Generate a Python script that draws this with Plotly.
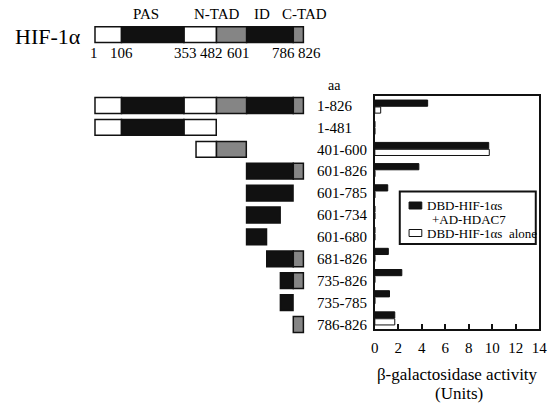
import plotly.graph_objects as go

# ---------------- data ----------------
constructs = ["1-826", "1-481", "401-600", "601-826", "601-785", "601-734",
              "601-680", "681-826", "735-826", "735-785", "786-826"]
starts = [1, 1, 401, 601, 601, 601, 601, 681, 735, 735, 786]
ends = [826, 481, 600, 826, 785, 734, 680, 826, 826, 785, 826]
hdac7 = [4.5, 0, 9.7, 3.75, 1.1, 0, 0, 1.15, 2.3, 1.25, 1.7]
alone = [0.5, 0, 9.75, 0, 0, 0, 0, 0, 0, 0, 1.7]
domain_bounds = [1, 106, 353, 482, 601, 786, 826]
segment_kind = ["open", "filled", "open", "tad", "filled", "tad"]
domain_names = ["PAS", "N-TAD", "ID", "C-TAD"]
bound_labels = ["1", "106", "353", "482", "601", "786", "826"]
x_ticks = [0, 2, 4, 6, 8, 10, 12, 14]
series_names = ["DBD-HIF-1αs<br>+AD-HDAC7", "DBD-HIF-1αs\u00a0\u00a0alone"]

# ---------------- style / layout ----------------
W, H = 556, 408
FONT = "Liberation Serif"
INK = "#111111"
kind_color = {"open": "white", "filled": INK, "tad": "#858585"}
series_color = [INK, "white"]
FULL_ROW = -3.24  # row position of full-length HIF-1a schematic


def px_x(p):
    return p / W


def px_y(p):
    return 1 - p / H


# schematic segments computed from construct ranges
seg = {k: {"y": [], "base": [], "len": []} for k in kind_color}
rows = [(FULL_ROW, 1, 826)] + [(i, s, e) for i, (s, e) in enumerate(zip(starts, ends))]
for r, s, e in rows:
    for k in range(len(segment_kind)):
        lo = max(s, domain_bounds[k])
        hi = min(e, domain_bounds[k + 1])
        if hi > lo:
            d = seg[segment_kind[k]]
            d["y"].append(r)
            d["base"].append(lo)
            d["len"].append(hi - lo)

fig = go.Figure()

for k, d in seg.items():
    fig.add_trace(go.Bar(
        x=d["len"], base=d["base"], y=d["y"], orientation="h",
        xaxis="x2", yaxis="y2", width=0.72, offset=-0.36,
        marker=dict(color=kind_color[k], line=dict(color=INK, width=1.5)),
        showlegend=False, hoverinfo="skip"))

for vals, name, col in zip([hdac7, alone], series_names, series_color):
    fig.add_trace(go.Bar(
        x=vals, y=constructs, orientation="h", name=name, showlegend=False,
        marker=dict(color=col, line=dict(color=INK, width=1))))

scale = 213 / 825.0  # px per aa
x2_lo = 1 + (80 - 93) / scale
x2_hi = 1 + (319 - 93) / scale
row_px0, row_step = 105.5, 21.9
y2_top = (18 - row_px0) / row_step
y2_bot = (342 - row_px0) / row_step


def label(text, xp, yp, size, xanchor="center"):
    return dict(text=text, x=px_x(xp), y=px_y(yp), xref="paper", yref="paper",
                xanchor=xanchor, yanchor="middle", showarrow=False,
                font=dict(size=size, family=FONT, color="black"))


annotations = [label("HIF-1α", 45, 36, 22)]
for name, xp in zip(domain_names, [145, 218, 264, 307.5]):
    annotations.append(label(name, xp, 14, 15))
for lab, xp in zip(bound_labels, [91.5, 120, 185, 212, 240, 286, 312.5]):
    annotations.append(label(lab, xp, 53, 15))
annotations.append(label("aa", 338, 85, 14))
annotations.append(label("(Units)", 465, 393, 17))

# hand-drawn legend box (tight line spacing as in the original)
shapes = [dict(type="rect", xref="paper", yref="paper",
               x0=px_x(404.5), x1=px_x(543.5), y0=px_y(244), y1=px_y(191.5),
               line=dict(color=INK, width=2), fillcolor="white", layer="above")]
sym_y = [205.5, 233]
for yc, col in zip(sym_y, series_color):
    shapes.append(dict(type="rect", xref="paper", yref="paper",
                       x0=px_x(414), x1=px_x(427), y0=px_y(yc + 3.5), y1=px_y(yc - 3.5),
                       line=dict(color=INK, width=1), fillcolor=col, layer="above"))
name_lines = series_names[0].split("<br>")
annotations.append(label(name_lines[0], 430, 205, 13, "left"))
annotations.append(label(name_lines[1], 435, 219, 13, "left"))
annotations.append(label(series_names[1], 430, 233, 13, "left"))

fig.update_layout(
    width=W, height=H,
    margin=dict(l=0, r=0, t=0, b=0),
    paper_bgcolor="white", plot_bgcolor="white",
    font=dict(family=FONT, color="black", size=15),
    barmode="group", bargap=0.35, bargroupgap=0.1,
    showlegend=False,
    xaxis=dict(domain=[px_x(379), px_x(547)], range=[0, 14], tickvals=x_ticks,
               ticks="inside", ticklen=5, tickwidth=1.5, tickcolor=INK,
               showline=True, linecolor=INK, linewidth=2, mirror=True,
               showgrid=False, zeroline=False, anchor="y", ticklabelstandoff=4,
               tickfont=dict(size=15, family=FONT, color="black"),
               title=dict(text="β-galactosidase activity",
                          font=dict(size=17, family=FONT, color="black"), standoff=13)),
    yaxis=dict(domain=[px_y(329), px_y(96)], autorange="reversed", type="category",
               showticklabels=False, ticks="", showline=True, linecolor=INK,
               linewidth=2, mirror=True, showgrid=False, zeroline=False, anchor="x"),
    xaxis2=dict(domain=[px_x(80), px_x(319)], range=[x2_lo, x2_hi], visible=False,
                anchor="y2"),
    yaxis2=dict(domain=[px_y(342), px_y(18)], range=[y2_bot, y2_top], anchor="x2",
                side="right", tickvals=list(range(len(constructs))), ticktext=constructs,
                ticks="", showline=False, showgrid=False, zeroline=False,
                tickfont=dict(size=15, family=FONT, color="black")),
    annotations=annotations,
    shapes=shapes,
)

fig.write_html("out.html", config={"displayModeBar": False},
               post_script="document.body.style.margin='0';document.body.style.overflow='hidden';")
